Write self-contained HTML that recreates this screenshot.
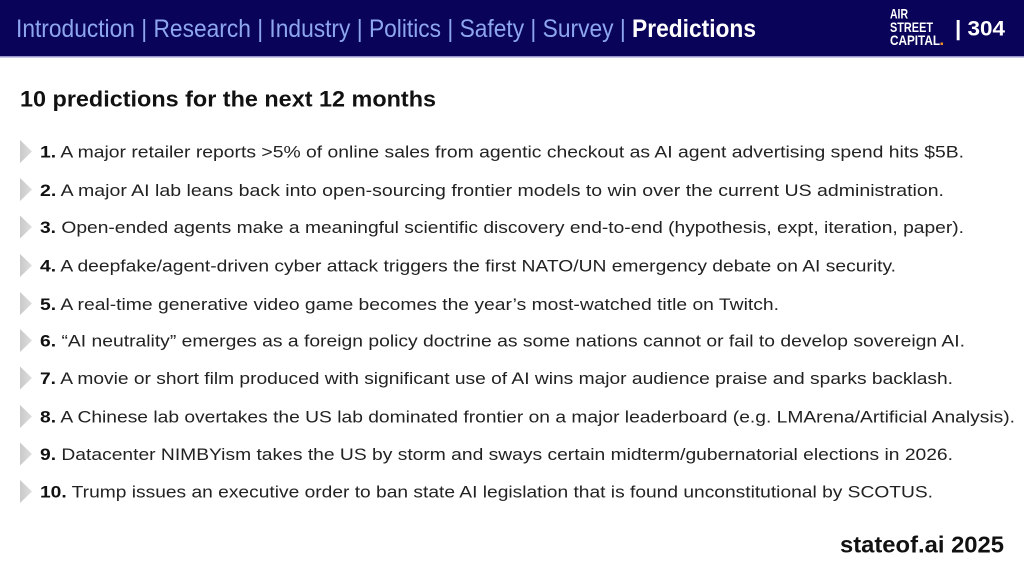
<!DOCTYPE html>
<html>
<head>
<meta charset="utf-8">
<style>
html,body{margin:0;padding:0;background:#fff;}
svg{display:block;}
text{font-family:"Liberation Sans",sans-serif;}
</style>
</head>
<body>
<svg width="1024" height="575" viewBox="0 0 1024 575" xmlns="http://www.w3.org/2000/svg">
<defs>
<linearGradient id="tri" x1="0" y1="0" x2="1" y2="0">
<stop offset="0" stop-color="#c9c9c9"/>
<stop offset="1" stop-color="#dedede"/>
</linearGradient>
</defs>
<rect x="0" y="0" width="1024" height="56" fill="#09045a"/>
<rect x="0" y="56" width="1024" height="1.5" fill="#9a96cc"/>

<text x="16" y="37" font-size="25" fill="#8ea6ee" textLength="740" lengthAdjust="spacingAndGlyphs">Introduction | Research | Industry | Politics | Safety | Survey | <tspan fill="#ffffff" font-weight="bold">Predictions</tspan></text>

<text x="890" y="18.5" font-size="14" font-weight="bold" fill="#fff" textLength="18" lengthAdjust="spacingAndGlyphs">AIR</text>
<text x="890" y="31.8" font-size="14" font-weight="bold" fill="#fff" textLength="43" lengthAdjust="spacingAndGlyphs">STREET</text>
<text x="890" y="45.2" font-size="14" font-weight="bold" fill="#fff" textLength="50" lengthAdjust="spacingAndGlyphs">CAPITAL</text>
<rect x="940.5" y="42.5" width="2.5" height="2.5" fill="#f08a24"/>
<text x="955" y="35.5" font-size="21" font-weight="bold" fill="#fff" textLength="50" lengthAdjust="spacingAndGlyphs">| 304</text>

<text x="20" y="106.5" font-size="22" font-weight="bold" fill="#111" textLength="416" lengthAdjust="spacingAndGlyphs">10 predictions for the next 12 months</text>

<g fill="url(#tri)">
<polygon points="20,140 32,151.5 20,163"/>
<polygon points="20,178 32,189.5 20,201"/>
<polygon points="20,215.5 32,227 20,238.5"/>
<polygon points="20,254 32,265.5 20,277"/>
<polygon points="20,292 32,303.5 20,315"/>
<polygon points="20,329 32,340.5 20,352"/>
<polygon points="20,366.5 32,378 20,389.5"/>
<polygon points="20,405 32,416.5 20,428"/>
<polygon points="20,442.5 32,454 20,465.5"/>
<polygon points="20,480 32,491.5 20,503"/>
</g>

<g font-size="17" fill="#222">
<text x="40" y="157.7" textLength="924" lengthAdjust="spacingAndGlyphs"><tspan font-weight="bold" fill="#111">1.</tspan> A major retailer reports &gt;5% of online sales from agentic checkout as AI agent advertising spend hits $5B.</text>
<text x="40" y="196" textLength="904" lengthAdjust="spacingAndGlyphs"><tspan font-weight="bold" fill="#111">2.</tspan> A major AI lab leans back into open-sourcing frontier models to win over the current US administration.</text>
<text x="40" y="233" textLength="924" lengthAdjust="spacingAndGlyphs"><tspan font-weight="bold" fill="#111">3.</tspan> Open-ended agents make a meaningful scientific discovery end-to-end (hypothesis, expt, iteration, paper).</text>
<text x="40" y="271.7" textLength="856" lengthAdjust="spacingAndGlyphs"><tspan font-weight="bold" fill="#111">4.</tspan> A deepfake/agent-driven cyber attack triggers the first NATO/UN emergency debate on AI security.</text>
<text x="40" y="310" textLength="739" lengthAdjust="spacingAndGlyphs"><tspan font-weight="bold" fill="#111">5.</tspan> A real-time generative video game becomes the year’s most-watched title on Twitch.</text>
<text x="40" y="346.7" textLength="925" lengthAdjust="spacingAndGlyphs"><tspan font-weight="bold" fill="#111">6.</tspan> “AI neutrality” emerges as a foreign policy doctrine as some nations cannot or fail to develop sovereign AI.</text>
<text x="40" y="384" textLength="913" lengthAdjust="spacingAndGlyphs"><tspan font-weight="bold" fill="#111">7.</tspan> A movie or short film produced with significant use of AI wins major audience praise and sparks backlash.</text>
<text x="40" y="422.7" textLength="975" lengthAdjust="spacingAndGlyphs"><tspan font-weight="bold" fill="#111">8.</tspan> A Chinese lab overtakes the US lab dominated frontier on a major leaderboard (e.g. LMArena/Artificial Analysis).</text>
<text x="40" y="460" textLength="913" lengthAdjust="spacingAndGlyphs"><tspan font-weight="bold" fill="#111">9.</tspan> Datacenter NIMBYism takes the US by storm and sways certain midterm/gubernatorial elections in 2026.</text>
<text x="40" y="497.7" textLength="893" lengthAdjust="spacingAndGlyphs"><tspan font-weight="bold" fill="#111">10.</tspan> Trump issues an executive order to ban state AI legislation that is found unconstitutional by SCOTUS.</text>
</g>

<text x="840" y="552.7" font-size="23" font-weight="bold" fill="#111" textLength="164" lengthAdjust="spacingAndGlyphs">stateof.ai 2025</text>
</svg>
</body>
</html>
